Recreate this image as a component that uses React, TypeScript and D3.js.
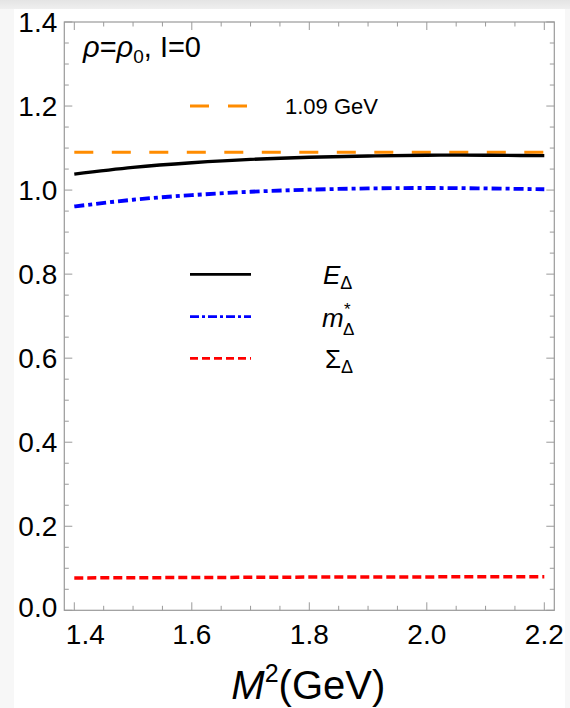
import * as d3 from "d3";

// M^2 grid (GeV) and the three curves
const massSq = [1.4, 1.5, 1.6, 1.7, 1.8, 1.9, 2.0, 2.1, 2.2];
const energy = [1.038, 1.054, 1.065, 1.073, 1.078, 1.081, 1.083, 1.083, 1.082];
const effMass = [0.961, 0.977, 0.988, 0.996, 1.001, 1.004, 1.005, 1.004, 1.002];
const selfEnergy = [0.077, 0.0775, 0.078, 0.0785, 0.079, 0.0792, 0.0795, 0.0798, 0.08];
const refValue = 1.09;

const xTicks = [1.4, 1.6, 1.8, 2.0, 2.2];
const yTicks = [0, 0.2, 0.4, 0.6, 0.8, 1.0, 1.2, 1.4];

const W = 570;
const H = 708;
const font = "'Liberation Sans', Arial, Helvetica, sans-serif";
const frameColor = "#9a9a9a";

export default function App() {
  const x = d3.scaleLinear().domain([1.4, 2.2]).range([74.3, 544.3]);
  const y = d3.scaleLinear().domain([0, 1.4]).range([610.3, 22]);

  const left = x(1.4) - 10;
  const right = x(2.2) + 10;
  const top = y(1.4);
  const bottom = y(0);

  const line = d3
    .line<[number, number]>()
    .x((d) => x(d[0]))
    .y((d) => y(d[1]))
    .curve(d3.curveNatural);

  const pts = (vals: number[]) => massSq.map((m, i) => [m, vals[i]] as [number, number]);

  const xMinor = d3.range(1.4, 2.2001, 0.05);
  const yMinor = d3.range(0, 1.4001, 0.05);
  const isMajor = (v: number) => Math.abs(v * 5 - Math.round(v * 5)) < 1e-6;

  const legendX0 = 190;
  const legendX1 = 251;
  const rows = [274.3, 316.7, 358.3];

  return (
    <svg
      width={W}
      height={H}
      style={{ position: "absolute", left: 0, top: 0, display: "block" }}
      fontFamily={font}
    >
      <defs>
        <linearGradient id="topband" x1="0" y1="0" x2="0" y2="1">
          <stop offset="0" stopColor="#e4e4e4" />
          <stop offset="1" stopColor="#efefef" />
        </linearGradient>
      </defs>
      <rect x={0} y={0} width={W} height={H} fill="#f7f7f7" />
      <rect x={0} y={0} width={W} height={9} fill="url(#topband)" />
      <rect x={14} y={9} width={551} height={H - 9} fill="#ffffff" />

      {/* frame */}
      <rect x={left} y={top} width={right - left} height={bottom - top} fill="none" stroke={frameColor} strokeWidth={1.2} />

      {/* x ticks, bottom and top, inward */}
      {xMinor.map((v, i) => {
        const len = isMajor(v) ? 8 : 4.5;
        return (
          <g key={"xt" + i} stroke={frameColor} strokeWidth={1}>
            <line x1={x(v)} x2={x(v)} y1={bottom} y2={bottom - len} />
            <line x1={x(v)} x2={x(v)} y1={top} y2={top + len} />
          </g>
        );
      })}
      {yMinor.map((v, i) => {
        const len = isMajor(v) ? 8 : 4.5;
        return (
          <g key={"yt" + i} stroke={frameColor} strokeWidth={1}>
            <line x1={left} x2={left + len} y1={y(v)} y2={y(v)} />
            <line x1={right} x2={right - len} y1={y(v)} y2={y(v)} />
          </g>
        );
      })}

      {/* tick labels */}
      {xTicks.map((v, i) => (
        <text
          key={"xl" + i}
          x={x(v) + (i === 0 ? 11 : 0)}
          y={bottom + 34}
          textAnchor="middle"
          fontSize={28}
          fill="#000"
        >
          {v.toFixed(1)}
        </text>
      ))}
      {yTicks.map((v, i) => (
        <text
          key={"yl" + i}
          x={left - 7}
          y={y(v) + (i === 0 ? -3 : 0)}
          dy="0.36em"
          textAnchor="end"
          fontSize={28}
          fill="#000"
        >
          {v.toFixed(1)}
        </text>
      ))}

      {/* axis title */}
      <text x={(left + right) / 2 - 1} y={699} textAnchor="middle" fontSize={40} fill="#000">
        <tspan fontStyle="italic">M</tspan>
        <tspan fontSize={25} dy={-17}>2</tspan>
        <tspan dy={17}>(GeV)</tspan>
      </text>

      {/* curves */}
      <line
        x1={x(1.4)}
        x2={x(2.2)}
        y1={y(refValue)}
        y2={y(refValue)}
        stroke="#ff8c00"
        strokeWidth={3}
        strokeDasharray="19,18.5"
      />
      <path d={line(pts(energy)) ?? ""} fill="none" stroke="#000" strokeWidth={3.4} />
      <path
        d={line(pts(effMass)) ?? ""}
        fill="none"
        stroke="#0000ff"
        strokeWidth={3.8}
        strokeDasharray="10,4,4,4"
      />
      <path
        d={line(pts(selfEnergy)) ?? ""}
        fill="none"
        stroke="#ff0000"
        strokeWidth={3.5}
        strokeDasharray="9,4"
      />

      {/* annotation */}
      <text x={83} y={57} fontSize={29} fill="#000">
        <tspan fontStyle="italic">ρ</tspan>
        <tspan>=</tspan>
        <tspan fontStyle="italic">ρ</tspan>
        <tspan fontSize={19} dy={6}>0</tspan>
        <tspan dy={-6}>, I=0</tspan>
      </text>

      {/* reference legend */}
      <line x1={190} x2={247} y1={106} y2={106} stroke="#ff8c00" strokeWidth={3} strokeDasharray="19,19" />
      <text x={285} y={106} dy="0.36em" fontSize={22} fill="#000">
        {refValue.toFixed(2)} GeV
      </text>

      {/* curve legend */}
      <line x1={legendX0} x2={legendX1} y1={rows[0]} y2={rows[0]} stroke="#000" strokeWidth={2.8} />
      <line
        x1={legendX0}
        x2={legendX1}
        y1={rows[1]}
        y2={rows[1]}
        stroke="#0000ff"
        strokeWidth={2.8}
        strokeDasharray="9,3,3,3"
      />
      <line
        x1={legendX0}
        x2={legendX1}
        y1={rows[2]}
        y2={rows[2]}
        stroke="#ff0000"
        strokeWidth={2.8}
        strokeDasharray="8,4"
      />

      <text x={323} y={rows[0] + 10} fontSize={26} fill="#000">
        <tspan fontStyle="italic">E</tspan>
        <tspan fontSize={18} dy={5}>Δ</tspan>
      </text>
      <text x={322} y={rows[1] + 10} fontSize={26} fill="#000">
        <tspan fontStyle="italic">m</tspan>
      </text>
      <text x={344} y={rows[1] - 2} fontSize={17} fill="#000">*</text>
      <text x={343} y={rows[1] + 18} fontSize={17} fill="#000">Δ</text>
      <text x={325} y={rows[2] + 10} fontSize={26} fill="#000">
        <tspan>Σ</tspan>
        <tspan fontSize={18} dy={5}>Δ</tspan>
      </text>
    </svg>
  );
}
